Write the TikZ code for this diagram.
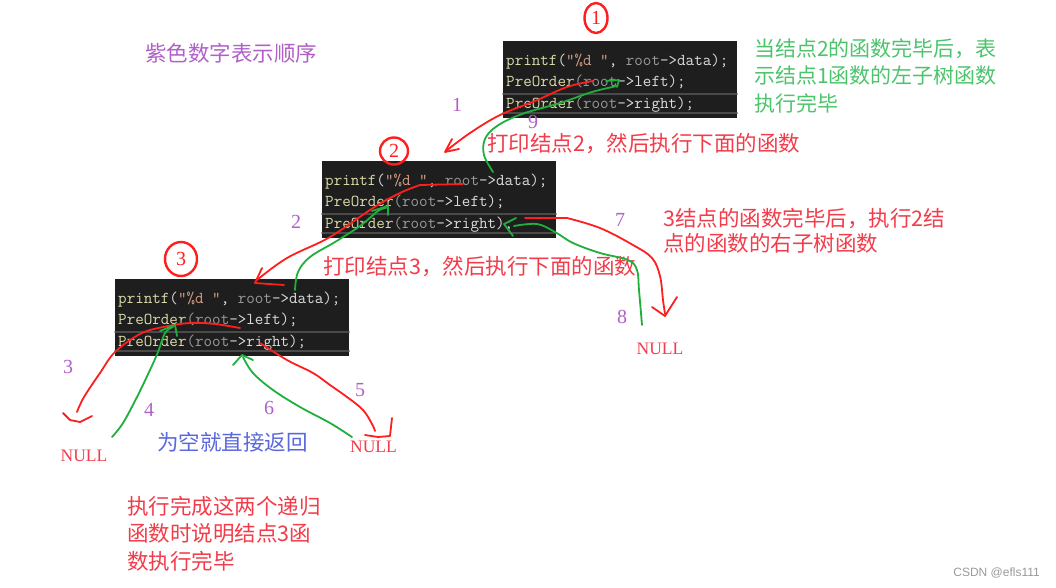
\documentclass[tikz,border=0pt]{standalone}
\usepackage{fontspec}
\setmainfont{Liberation Serif}
\newfontfamily\cjk{Noto Sans CJK SC}
\newfontfamily\marca{Liberation Sans}
\usetikzlibrary{shapes.geometric}
\usepackage{xcolor}
\definecolor{fondo}{HTML}{1E1E1E}
\definecolor{borde}{HTML}{4A4A4A}
\definecolor{amar}{HTML}{DCDCAA}
\definecolor{naran}{HTML}{D69D85}
\definecolor{claro}{HTML}{DCDCDC}
\definecolor{grisr}{HTML}{9B9B9B}
\definecolor{trazorojo}{HTML}{FF1E1E}
\definecolor{trazoverde}{HTML}{1FAF3C}
\definecolor{textorojo}{HTML}{F23C4A}
\definecolor{textoverde}{HTML}{4CC46C}
\definecolor{textoazul}{HTML}{5B68DC}
\definecolor{morado}{HTML}{B060C8}
\definecolor{gristxt}{HTML}{9A9A9A}
% lineas de codigo
\newcommand{\lprint}{\textcolor{amar}{printf}\textcolor{claro}{(}\textcolor{naran}{”\%d ”}\textcolor{claro}{, }\textcolor{grisr}{root}\textcolor{claro}{->data);}}
\newcommand{\lizq}{\textcolor{amar}{PreOrder}\textcolor{grisr}{(root}\textcolor{claro}{->left);}}
\newcommand{\lder}{\textcolor{amar}{PreOrder}\textcolor{grisr}{(root}\textcolor{claro}{->right);}}
% bloque de codigo: nombre, esquina superior izquierda
\newcommand{\bloque}[3]{%
  \begin{scope}[shift={(#2,#3)}]
    \node[caja] (#1) at (117,38.5) {};
    \draw[resalte] (0,53) -- (234,53);
    \draw[resalte] (0,72) -- (234,72);
    \node[codigo] (#1a) at (3,24) {\lprint};
    \node[codigo] (#1b) at (3,45) {\lizq};
    \node[codigo] (#1c) at (3,67) {\lder};
  \end{scope}}

\begin{document}
\begin{tikzpicture}[
    x=1pt,y=-1pt,line cap=round,line join=round,
    caja/.style={fill=fondo,minimum width=234pt,minimum height=77pt,inner sep=0pt},
    resalte/.style={borde,line width=1.5pt},
    codigo/.style={anchor=base west,inner sep=0pt,font=\ttfamily\fontsize{16.6}{18}\selectfont},
    num/.style={morado,inner sep=0pt,font=\fontsize{20}{20}\selectfont},
    circulo/.style={ellipse,draw=trazorojo,line width=2.4pt,inner sep=0pt,
                    trazorojo,font=\fontsize{20}{20}\selectfont},
    nulo/.style={textorojo,inner sep=0pt,font=\fontsize{17.5}{17.5}\selectfont},
    nota/.style={anchor=west,inner sep=0pt,align=left},
    rojo/.style={trazorojo,line width=1.8pt},
    verde/.style={trazoverde,line width=1.8pt}]
  \useasboundingbox (0,0) rectangle (1056,587);
  \fill[white] (0,0) rectangle (1056,587);
  % --- bloques de codigo
  \bloque{blk1}{503}{41}
  \bloque{blk2}{322}{161}
  \bloque{blk3}{115}{279}
  % numeros de nodo en circulo
  \node[circulo,minimum width=23pt,minimum height=30pt] (c1) at (596,18) {1};
  \node[circulo,minimum width=28pt,minimum height=27pt] (c2) at (394,151) {2};
  \node[circulo,minimum width=32pt,minimum height=34pt] (c3) at (181,259) {3};
  % textos
  \node[nota,morado,font=\cjk\fontsize{21.5}{27.5}\selectfont] (titulo) at (145,53) {紫色数字表示顺序};
  \node[nota,textoverde,font=\cjk\fontsize{21}{27.5}\selectfont] (fin1) at (754,75.5)
    {当结点2的函数完毕后，表\\示结点1函数的左子树函数\\执行完毕};
  \node[nota,textorojo,font=\cjk\fontsize{21.5}{27.5}\selectfont] (imp2) at (487,144) {打印结点2，然后执行下面的函数};
  \node[nota,textorojo,font=\cjk\fontsize{21.5}{27.5}\selectfont] (imp3) at (323,267) {打印结点3，然后执行下面的函数};
  \node[nota,textorojo,font=\cjk\fontsize{21.5}{25.5}\selectfont] (fin3) at (663,231)
    {3结点的函数完毕后，执行2结\\点的函数的右子树函数};
  \node[nota,textoazul,font=\cjk\fontsize{21.5}{27.5}\selectfont] (vacio) at (157,442) {为空就直接返回};
  \node[nota,textorojo,font=\cjk\fontsize{21.5}{27.5}\selectfont] (fin4) at (127,533.5)
    {执行完成这两个递归\\函数时说明结点3函\\数执行完毕};
  \node[anchor=east,inner sep=0pt,gristxt,font=\marca\fontsize{12}{12}\selectfont] (firma) at (1040,572.5) {CSDN @efls111};
  % NULL
  \node[nulo] (nul1) at (84,455.5) {NULL};
  \node[nulo] (nul2) at (373.5,446.5) {NULL};
  \node[nulo] (nul3) at (660,348.5) {NULL};
  % numeros de orden
  \node[num] (o1) at (457,105) {1};
  \node[num] (o2) at (296,222) {2};
  \node[num] (o3) at (68,367) {3};
  \node[num] (o4) at (149,410) {4};
  \node[num] (o5) at (360,390) {5};
  \node[num] (o6) at (269,408) {6};
  \node[num] (o7) at (620,220) {7};
  \node[num] (o8) at (622,317) {8};
  \node[num] (o9) at (533,122) {9};
  % --- trazos: bloque 1 <-> bloque 2
  \draw[rojo] plot[smooth,tension=0.6] coordinates
    {(593,81) (567,87) (535,101) (500,115) (470,133) (446,151)};
  \draw[rojo] (452,139) -- (445,152) -- (459,149);
  \draw[verde] plot[smooth,tension=0.6] coordinates
    {(493,172) (484,155) (485,139) (497,126) (522,114) (560,103) (592,92) (617,86)};
  \draw[verde] (606,81) -- (619,80) -- (617,87);
  % bloque 2 <-> bloque 3
  \draw[rojo] (463,184) -- (420,185);
  \draw[rojo] plot[smooth,tension=0.6] coordinates
    {(420,185) (400,193) (373,208) (330,237) (287,258) (257,280)};
  \draw[rojo] (262,268) -- (255,283) -- (284,285);
  \draw[verde] plot[smooth,tension=0.6] coordinates
    {(295,290) (298,272) (310,257) (335,242) (360,226) (378,211) (386,208)};
  \draw[verde] (372,211) -- (388,206) -- (388,215);
  % bloque 2 -> NULL derecha
  \draw[rojo] (525,218) -- (567,218);
  \draw[rojo] plot[smooth,tension=0.6] coordinates
    {(567,218) (600,228) (633,245) (652,258) (660,276) (663,300) (665,314)};
  \draw[rojo] (652,307) -- (665,316) -- (677,297);
  \draw[verde] plot[smooth,tension=0.6] coordinates
    {(642,325) (639,290) (637,270) (628,260) (600,253) (573,243) (555,232) (537,224) (514,226)};
  \draw[verde] (516,218) -- (504,224) -- (513,236);
  % bloque 3 -> NULL izquierda
  \draw[rojo] plot[smooth,tension=0.6] coordinates
    {(240,328) (215,324) (190,323) (163,327) (140,334) (115,352) (100,373) (84,397) (77,412)};
  \draw[rojo] (63,413) -- (70,420) -- (80,422) -- (92,416);
  \draw[verde] plot[smooth,tension=0.6] coordinates
    {(112,437) (123,423) (137,397) (150,370) (158,352) (165,333) (173,327)};
  \draw[verde] (160,331) -- (175,325) -- (177,336);
  % bloque 3 -> NULL derecha
  \draw[rojo] plot[smooth,tension=0.6] coordinates
    {(260,343) (287,360) (313,373) (330,385) (347,397) (363,410) (372,424) (375,431)};
  \draw[rojo] (365,435) -- (378,437) -- (390,436) -- (392,418);
  \draw[verde] plot[smooth,tension=0.6] coordinates
    {(352,437) (330,423) (300,407) (273,390) (253,373) (243,357)};
  \draw[verde] (233,365) -- (242,355) -- (253,360);
\end{tikzpicture}
\end{document}
